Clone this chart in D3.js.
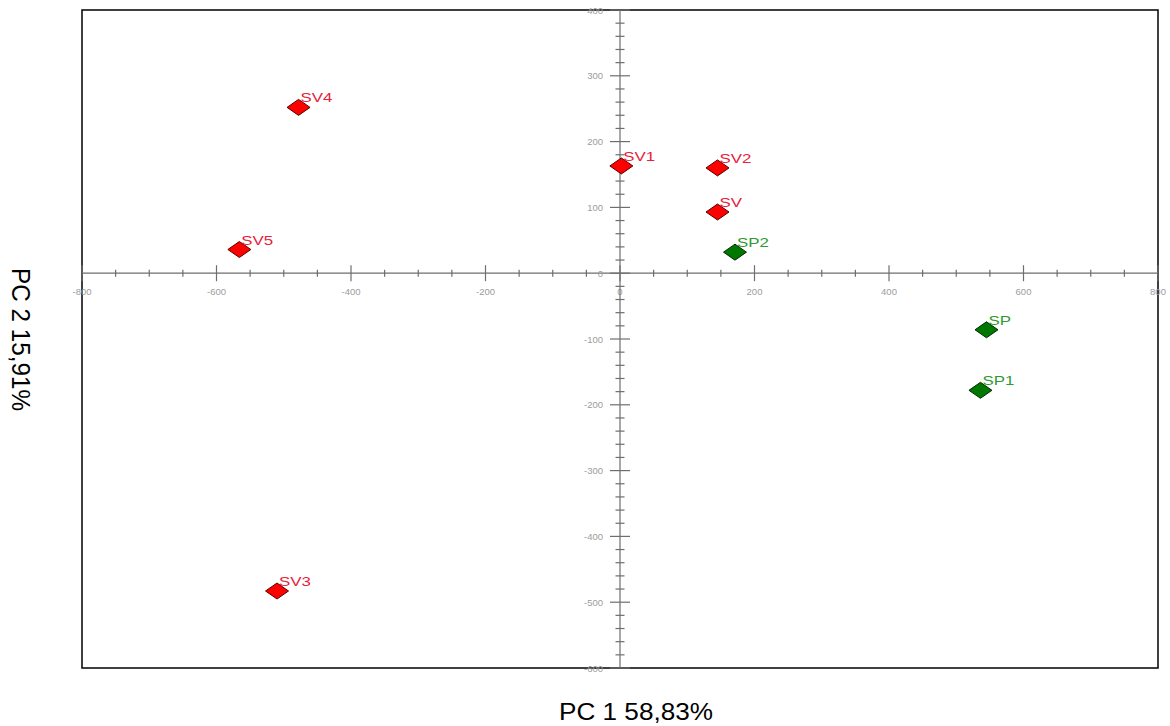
<!DOCTYPE html>
<html>
<head>
<meta charset="utf-8">
<script src="https://cdn.jsdelivr.net/npm/d3@7"></script>
<style>
  html, body { margin: 0; padding: 0; background: #fff; }
  svg { display: block; font-family: "Liberation Sans", Arial, sans-serif; }
</style>
</head>
<body>
<svg id="chart" width="1170" height="726"></svg>
<script>
// PCA score plot: sample names, scores on PC1/PC2 and group
const samples = ["SV4", "SV1", "SV2", "SV", "SP2", "SP", "SP1", "SV5", "SV3"];
const pc1     = [-478, 2, 145, 145, 171, 545, 536, -566, -510];
const pc2     = [252, 163, 160, 93, 32, -86, -178, 36, -483];
const groups  = ["SV", "SV", "SV", "SV", "SP", "SP", "SP", "SV", "SV"];

const xTicks = [-800, -600, -400, -200, 0, 200, 400, 600, 800];
const yTicks = [400, 300, 200, 100, 0, -100, -200, -300, -400, -500, -600];
const xTitle = "PC 1 58,83%";
const yTitle = "PC 2 15,91%";

const fillColor   = { SV: "#ff0000", SP: "#007800" };
const strokeColor = { SV: "#5a0000", SP: "#002a00" };
const labelColor  = { SV: "#e8203a", SP: "#2f9a2f" };

const svg = d3.select("#chart");
const plot = { left: 82, right: 1158, top: 10, bottom: 668 };

const x = d3.scaleLinear().domain([-800, 800]).range([plot.left, plot.right]);
const y = d3.scaleLinear().domain([-600, 400]).range([plot.bottom, plot.top]);

// frame
svg.append("rect")
  .attr("x", plot.left).attr("y", plot.top)
  .attr("width", plot.right - plot.left).attr("height", plot.bottom - plot.top)
  .attr("fill", "none").attr("stroke", "#000").attr("stroke-width", 1.5);

const axisColor = "#6e6e6e";
const labelGrey = "#9c9c9c";

// horizontal axis through y = 0
const gx = svg.append("g").attr("transform", `translate(0,${y(0)})`);
gx.append("line").attr("x1", plot.left).attr("x2", plot.right)
  .attr("stroke", axisColor).attr("stroke-width", 1.2);
const xMinor = d3.range(-800, 801, 50).filter(v => v % 200 !== 0);
gx.selectAll("line.minor").data(xMinor).join("line")
  .attr("class", "minor")
  .attr("x1", d => x(d)).attr("x2", d => x(d))
  .attr("y1", -3.5).attr("y2", 3.5)
  .attr("stroke", axisColor).attr("stroke-width", 1.2);
gx.selectAll("line.major").data(xTicks).join("line")
  .attr("class", "major")
  .attr("x1", d => x(d)).attr("x2", d => x(d))
  .attr("y1", -8).attr("y2", 8)
  .attr("stroke", axisColor).attr("stroke-width", 1.2);
gx.selectAll("text").data(xTicks).join("text")
  .attr("x", d => x(d)).attr("y", 22)
  .attr("text-anchor", "middle")
  .attr("font-size", 9.5).attr("fill", labelGrey)
  .text(d => d);

// vertical axis through x = 0
const gy = svg.append("g").attr("transform", `translate(${x(0)},0)`);
gy.append("line").attr("y1", plot.top).attr("y2", plot.bottom)
  .attr("stroke", axisColor).attr("stroke-width", 1.2);
const yMinor = d3.range(-600, 401, 20).filter(v => v % 100 !== 0);
gy.selectAll("line.minor").data(yMinor).join("line")
  .attr("class", "minor")
  .attr("y1", d => y(d)).attr("y2", d => y(d))
  .attr("x1", -4.5).attr("x2", 4.5)
  .attr("stroke", axisColor).attr("stroke-width", 1.2);
gy.selectAll("line.major").data(yTicks).join("line")
  .attr("class", "major")
  .attr("y1", d => y(d)).attr("y2", d => y(d))
  .attr("x1", -10).attr("x2", 10)
  .attr("stroke", axisColor).attr("stroke-width", 1.2);
gy.selectAll("text").data(yTicks).join("text")
  .attr("x", -17).attr("y", d => y(d) + 3.5)
  .attr("text-anchor", "end")
  .attr("font-size", 9.5).attr("fill", labelGrey)
  .text(d => d);

// sample markers (diamonds) with names
const data = samples.map((s, i) => ({ name: s, px: pc1[i], py: pc2[i], g: groups[i] }));
const hw = 11.5, hh = 8;
const pts = svg.append("g").selectAll("g").data(data).join("g")
  .attr("transform", d => `translate(${x(d.px)},${y(d.py)})`);
pts.append("path")
  .attr("d", `M${-hw},0L0,${-hh}L${hw},0L0,${hh}Z`)
  .attr("fill", d => fillColor[d.g])
  .attr("stroke", d => strokeColor[d.g]).attr("stroke-width", 1);
pts.append("text")
  .attr("transform", "translate(2,-5) scale(1.35,1)")
  .attr("font-size", 12.5)
  .attr("fill", d => labelColor[d.g])
  .text(d => d.name);

// axis titles
svg.append("text")
  .attr("x", 636).attr("y", 720)
  .attr("text-anchor", "middle")
  .attr("font-size", 24).attr("fill", "#000")
  .attr("textLength", 154).attr("lengthAdjust", "spacingAndGlyphs")
  .text(xTitle);
svg.append("text")
  .attr("transform", `translate(12,339.5) rotate(90)`)
  .attr("text-anchor", "middle")
  .attr("font-size", 25).attr("fill", "#000")
  .attr("textLength", 143).attr("lengthAdjust", "spacingAndGlyphs")
  .text(yTitle);
</script>
</body>
</html>
